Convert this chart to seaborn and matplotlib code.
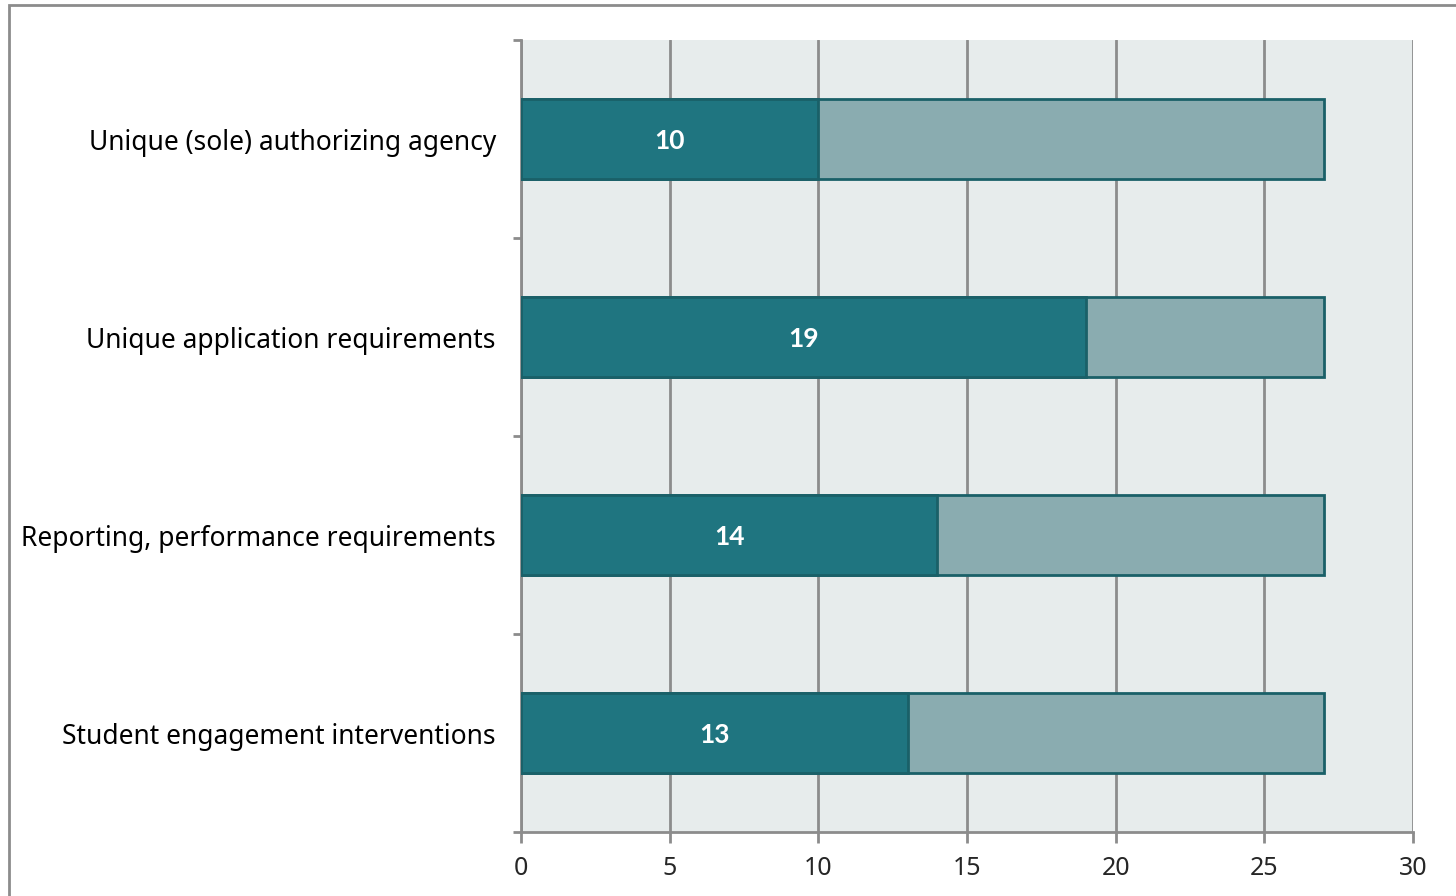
import matplotlib
matplotlib.use("Agg")
import matplotlib.pyplot as plt
import seaborn as sns
import pandas as pd
from matplotlib.patches import Rectangle

categories = ["Unique (sole) authorizing agency",
              "Unique application requirements",
              "Reporting, performance requirements",
              "Student engagement interventions"]
values = [10, 19, 14, 13]
totals = [27, 27, 27, 27]
xticks = [0, 5, 10, 15, 20, 25, 30]

sns.set_theme(style="white")
plt.rcParams['font.family'] = ['Noto Sans', 'DejaVu Sans']

df = pd.DataFrame({"cat": categories, "value": values, "total": totals})

fig = plt.figure(figsize=(14.56, 8.96), dpi=100)
ax = fig.add_axes([521/1456, 1-832/896, (1413-521)/1456, (832-40)/896])

dark = "#1F7580"
light = "#8AACB0"
edge = "#1A6068"

sns.barplot(data=df, x="total", y="cat", orient="h", color=light, width=0.4,
            edgecolor=edge, linewidth=2, saturation=1, ax=ax, zorder=3)
sns.barplot(data=df, x="value", y="cat", orient="h", color=dark, width=0.4,
            edgecolor=edge, linewidth=2, saturation=1, ax=ax, zorder=4)

for i, v in enumerate(values):
    ax.text(v/2, i + 0.01, str(v), ha="center", va="center", color="white",
            fontsize=19, fontweight="bold", family=["Lato", "DejaVu Sans"], zorder=5)

ax.set_facecolor("#E7ECEC")
ax.set_xlim(0, 30)
ax.set_ylim(3.5, -0.5)
ax.set_xticks(xticks)
ax.set_xticklabels([str(t) for t in xticks], fontsize=18)
ax.set_xlabel("")
ax.set_ylabel("")
ax.tick_params(axis="y", labelsize=19, length=0, pad=18, colors="black")
ax.set_yticks([-0.5, 0.5, 1.5, 2.5, 3.5], minor=True)
ax.tick_params(axis="y", which="minor", length=6, width=2, color="#8C8C8C", direction="out")
ax.tick_params(axis="x", length=8, width=2, color="#8C8C8C", pad=9, direction="out")
ax.tick_params(axis="x", which="major", bottom=True)
ax.tick_params(axis="y", which="minor", left=True)

ax.grid(axis="x", color="#8C8C8C", linewidth=2, zorder=1)
ax.set_axisbelow(True)
for s in ["top", "right"]:
    ax.spines[s].set_visible(False)
for s in ["left", "bottom"]:
    ax.spines[s].set_color("#8C8C8C")
    ax.spines[s].set_linewidth(2)

fig.patches.append(Rectangle((9/1456, -0.05), 1.1, 1 - 5/896 + 0.05,
                             transform=fig.transFigure, fill=False,
                             edgecolor="#8C8C8C", linewidth=2, zorder=0))

fig.savefig("out.png", dpi=100)
